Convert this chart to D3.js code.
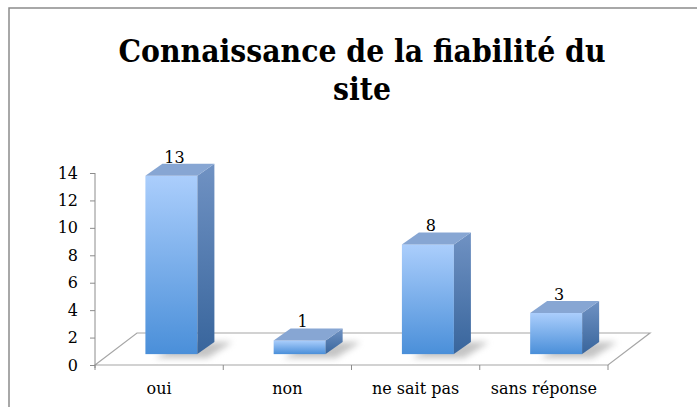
<!DOCTYPE html>
<html>
<head>
<meta charset="utf-8">
<script src="https://cdn.jsdelivr.net/npm/d3@7"></script>
<style>
  body { margin: 0; background: #fff; }
  svg { display: block; font-family: "DejaVu Serif", serif; }
</style>
</head>
<body>
<div id="chart"></div>
<script>
var categories = ['oui', 'non', 'ne sait pas', 'sans réponse']
var values = [13, 1, 8, 3]
var yTicks = [0, 2, 4, 6, 8, 10, 12, 14]
var titleLines = ['Connaissance de la fiabilité du', 'site']

var width = 697, height = 407

var svg = d3.select('#chart')
    .append('svg')
    .attr('width', width)
    .attr('height', height)

// chart frame (runs off the right and bottom edge)
svg.append('path')
    .attr('d', 'M9,' + (height + 5) + 'V8H' + (width + 5))
    .attr('fill', 'none')
    .attr('stroke', '#8c8c8c')
    .attr('stroke-width', 1.5)

svg.append('g')
    .selectAll('text')
    .data(titleLines)
    .enter()
    .append('text')
    .attr('x', 362)
    .attr('y', function(d, i) { return 62 + i * 38 })
    .attr('text-anchor', 'middle')
    .style('font-family', '"DejaVu Serif Condensed", "Liberation Serif", serif')
    .style('font-weight', 'bold')
    .style('font-size', '31.5px')
    .text(function(d) { return d })

var x = d3.scaleBand()
    .domain(categories)
    .range([95, 608])

var y = d3.scaleLinear()
    .domain([0, 14])
    .range([365, 173])

// floor depth and bar placement within it
var floorDx = 42, floorDy = -32
var barShift = 0.34, barDx = 17, barDy = -12, barW = 52

var defs = svg.append('defs')

var front = defs.append('linearGradient').attr('id', 'front')
    .attr('x1', 0).attr('y1', 0).attr('x2', 0).attr('y2', 1)
front.append('stop').attr('offset', 0).attr('stop-color', '#abcefc')
front.append('stop').attr('offset', 1).attr('stop-color', '#4a8fd9')

var side = defs.append('linearGradient').attr('id', 'side')
    .attr('x1', 0).attr('y1', 0).attr('x2', 0).attr('y2', 1)
side.append('stop').attr('offset', 0).attr('stop-color', '#7092c3')
side.append('stop').attr('offset', 1).attr('stop-color', '#38659c')

defs.append('filter').attr('id', 'blur')
    .attr('x', '-50%').attr('y', '-50%').attr('width', '200%').attr('height', '200%')
    .append('feGaussianBlur').attr('stdDeviation', 3)

var y0 = y(0)

// floor
svg.append('path')
    .attr('d', 'M' + x.range()[0] + ',' + y0
        + 'L' + (x.range()[0] + floorDx) + ',' + (y0 + floorDy)
        + 'H' + (x.range()[1] + floorDx)
        + 'L' + x.range()[1] + ',' + y0 + 'Z')
    .attr('fill', '#fff')
    .attr('stroke', '#a6a6a6')
    .attr('stroke-width', 1.2)

// y axis
var yAxis = d3.axisLeft(y)
    .tickValues(yTicks)
    .tickSize(5)
    .tickPadding(12)

var gy = svg.append('g')
    .attr('transform', 'translate(95,0)')
    .call(yAxis)
gy.select('.domain').attr('stroke', '#8c8c8c').attr('d', 'M0,' + y(14) + 'V' + (y0 + 3))
gy.selectAll('.tick line').attr('stroke', '#8c8c8c')
gy.selectAll('.tick text')
    .attr('font-family', '"DejaVu Serif", serif')
    .attr('font-size', 16)
    .attr('fill', '#000')

// x axis ticks at category boundaries
var bounds = categories.map(function(c) { return x(c) }).concat([x.range()[1]])
svg.append('g')
    .selectAll('line')
    .data(bounds)
    .enter()
    .append('line')
    .attr('x1', function(d) { return d })
    .attr('x2', function(d) { return d })
    .attr('y1', y0)
    .attr('y2', y0 + 5)
    .attr('stroke', '#8c8c8c')

svg.append('g')
    .selectAll('text')
    .data(categories)
    .enter()
    .append('text')
    .attr('x', function(d) { return x(d) + x.bandwidth() / 2 })
    .attr('y', 394)
    .attr('text-anchor', 'middle')
    .attr('font-size', 16)
    .text(function(d) { return d })

// bars
var bars = svg.append('g')
    .selectAll('g')
    .data(categories.map(function(c, i) { return { cat: c, val: values[i] } }))
    .enter()
    .append('g')

function bx(d) { return x(d.cat) + x.bandwidth() / 2 + barShift * floorDx - barW / 2 - 2 }
var bBase = y0 + barShift * floorDy
function bTop(d) { return bBase - (y0 - y(d.val)) }

bars.append('path')
    .attr('class', 'shadow')
    .attr('d', function(d) {
        var l = bx(d) + 10, b = bBase + 4
        return 'M' + l + ',' + b + 'H' + (l + barW) + 'L' + (l + barW + barDx + 8) + ',' + (b + barDy - 4)
            + 'H' + (l + barDx + 8) + 'Z'
    })
    .attr('fill', '#8a8a8a')
    .attr('opacity', 0.5)
    .attr('filter', 'url(#blur)')

bars.append('rect')
    .attr('x', bx)
    .attr('y', bTop)
    .attr('width', barW)
    .attr('height', function(d) { return bBase - bTop(d) })
    .attr('fill', 'url(#front)')

bars.append('path')
    .attr('d', function(d) {
        var r = bx(d) + barW, t = bTop(d)
        return 'M' + r + ',' + t + 'L' + (r + barDx) + ',' + (t + barDy)
            + 'V' + (bBase + barDy) + 'L' + r + ',' + bBase + 'Z'
    })
    .attr('fill', 'url(#side)')

bars.append('path')
    .attr('d', function(d) {
        var l = bx(d), t = bTop(d)
        return 'M' + l + ',' + t + 'H' + (l + barW) + 'L' + (l + barW + barDx) + ',' + (t + barDy)
            + 'H' + (l + barDx) + 'Z'
    })
    .attr('fill', '#87a6d3')

bars.append('text')
    .attr('x', function(d) { return bx(d) + barW / 2 + 3 })
    .attr('y', function(d) { return bTop(d) + barDy - 1 })
    .attr('text-anchor', 'middle')
    .attr('font-size', 16)
    .text(function(d) { return d.val })
</script>
</body>
</html>
